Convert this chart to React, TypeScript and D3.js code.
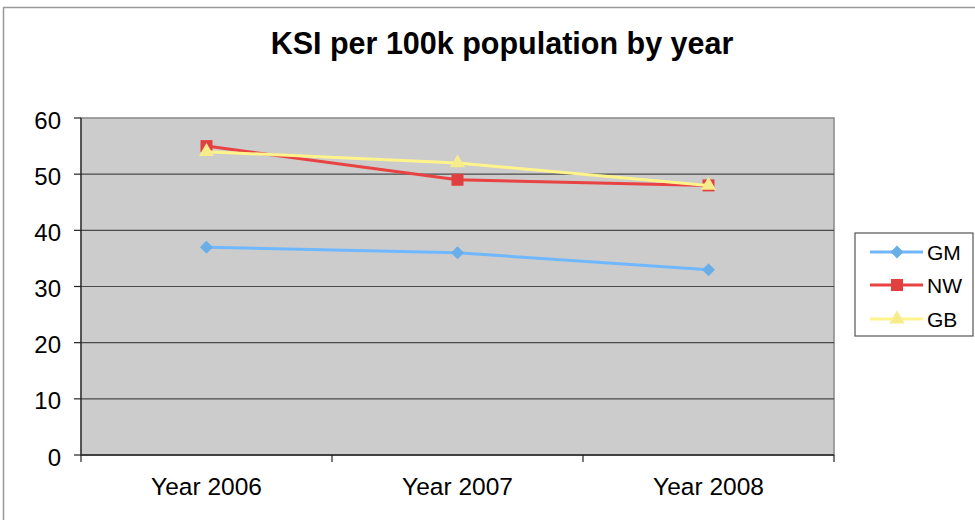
import React from "react";
import * as d3 from "d3";

const categories = ["Year 2006", "Year 2007", "Year 2008"];
const gm = [37, 36, 33];
const nw = [55, 49, 48];
const gb = [54, 52, 48];
const yTicks = [0, 10, 20, 30, 40, 50, 60];
const seriesNames = ["GM", "NW", "GB"];

const W = 975, H = 520;
const left = 81, right = 834, top = 118, bottom = 455;

export default function App() {
  const x = d3.scaleBand<string>().domain(categories).range([left, right]);
  const y = d3.scaleLinear().domain([0, 60]).range([bottom, top]);
  const cx = (c: string) => (x(c) as number) + x.bandwidth() / 2;
  const line = d3.line<number>().x((_, i) => cx(categories[i])).y((v) => y(v));

  const series = [
    { name: seriesNames[0], values: gm, color: "#6fb8ff", marker: "#6aaee8", shape: d3.symbolSquare, size: 85, rot: 45 },
    { name: seriesNames[1], values: nw, color: "#e84242", marker: "#e04040", shape: d3.symbolSquare, size: 144, rot: 0 },
    { name: seriesNames[2], values: gb, color: "#fff38c", marker: "#f6ec8c", shape: d3.symbolTriangle, size: 100, rot: 0 },
  ];
  const sym = (s: d3.SymbolType, size: number) => d3.symbol().type(s).size(size)() as string;

  const font = "Liberation Sans, Arial, sans-serif";
  const legendY = [252, 285, 319];

  return (
    <svg width={W} height={H} style={{ position: "absolute", left: 0, top: 0, background: "#fff" }} fontFamily={font}>
      <rect x={0} y={0} width={W} height={H} fill="#fff" />
      <line x1={3} y1={7.5} x2={W} y2={7.5} stroke="#999" strokeWidth={1.5} />
      <line x1={3.5} y1={7} x2={3.5} y2={H} stroke="#999" strokeWidth={1.5} />
      <text x={502} y={54} textAnchor="middle" fontSize={30.5} fontWeight="bold" fill="#000">
        KSI per 100k population by year
      </text>
      <rect x={left} y={top} width={right - left} height={bottom - top} fill="#cccccc" stroke="#888" strokeWidth={1.5} />
      {yTicks.filter((t) => t > 0 && t < 60).map((t) => (
        <line key={t} x1={left} x2={right} y1={y(t)} y2={y(t)} stroke="#4a4a4a" strokeWidth={1.2} />
      ))}
      <line x1={left} x2={left} y1={top} y2={bottom + 7} stroke="#222" strokeWidth={1.2} />
      <line x1={left} x2={right} y1={bottom} y2={bottom} stroke="#222" strokeWidth={1.5} />
      {yTicks.map((t) => (
        <g key={t}>
          <line x1={left - 7} x2={left} y1={y(t)} y2={y(t)} stroke="#222" strokeWidth={1.2} />
          <text x={61} y={y(t) + 10.5} textAnchor="end" fontSize={24} fill="#000">{t}</text>
        </g>
      ))}
      {categories.map((c) => (
        <g key={c}>
          <line x1={(x(c) as number) + x.bandwidth()} x2={(x(c) as number) + x.bandwidth()} y1={bottom} y2={bottom + 7} stroke="#222" strokeWidth={1.2} />
          <text x={cx(c)} y={495} textAnchor="middle" fontSize={24.5} fill="#000">{c}</text>
        </g>
      ))}
      {series.map((s) => (
        <g key={s.name}>
          <path d={line(s.values) as string} fill="none" stroke={s.color} strokeWidth={3} />
          {s.values.map((v, i) => (
            <path key={i} d={sym(s.shape, s.size)} transform={`translate(${cx(categories[i])},${y(v)}) rotate(${s.rot})`} fill={s.marker} />
          ))}
        </g>
      ))}
      <rect x={855} y={233} width={118} height={103} fill="#fff" stroke="#555" strokeWidth={1.2} />
      {series.map((s, i) => (
        <g key={s.name}>
          <line x1={870} x2={923} y1={legendY[i]} y2={legendY[i]} stroke={s.color} strokeWidth={3} />
          <path d={sym(s.shape, s.size)} transform={`translate(897,${legendY[i]}) rotate(${s.rot})`} fill={s.marker} />
          <text x={927} y={legendY[i] + 7.5} fontSize={21} fill="#000">{s.name}</text>
        </g>
      ))}
    </svg>
  );
}
